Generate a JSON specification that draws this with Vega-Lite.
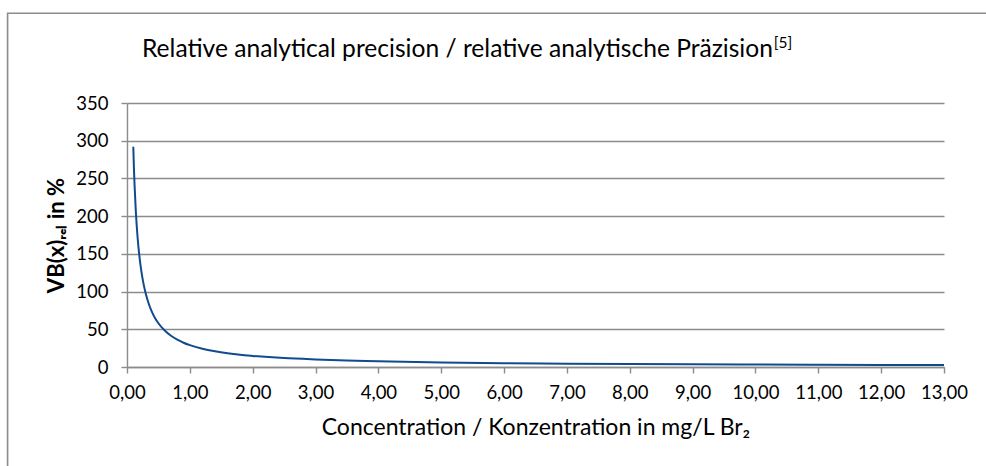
{
  "$schema": "https://vega.github.io/schema/vega-lite/v6.json",
  "autosize": {"type": "none"},
  "width": 817,
  "height": 264,
  "padding": {"left": 127, "top": 103, "right": 42, "bottom": 99},
  "background": "white",
  "title": {
    "text": "Relative analytical precision / relative analytische Präzision",
    "anchor": "start",
    "frame": "group",
    "dx": 15,
    "fontSize": 24.6,
    "font": "Lato, sans-serif",
    "fontWeight": "normal",
    "baseline": "alphabetic",
    "color": "#000000",
    "offset": -69
  },
  "config": {
    "view": {"stroke": null},
    "font": "Lato, sans-serif"
  },
  "layer": [
    {
      "data": {
        "values": [
          {"conc": 0.1, "vb": 292},
          {"conc": 0.11, "vb": 264},
          {"conc": 0.12, "vb": 242},
          {"conc": 0.14, "vb": 207},
          {"conc": 0.16, "vb": 181},
          {"conc": 0.18, "vb": 161},
          {"conc": 0.2, "vb": 145},
          {"conc": 0.23, "vb": 126},
          {"conc": 0.26, "vb": 111.5},
          {"conc": 0.3, "vb": 96.7},
          {"conc": 0.35, "vb": 82.9},
          {"conc": 0.4, "vb": 72.5},
          {"conc": 0.45, "vb": 64.4},
          {"conc": 0.5, "vb": 58},
          {"conc": 0.6, "vb": 48.3},
          {"conc": 0.7, "vb": 41.4},
          {"conc": 0.8, "vb": 36.3},
          {"conc": 0.9, "vb": 32.2},
          {"conc": 1.0, "vb": 29},
          {"conc": 1.2, "vb": 24.2},
          {"conc": 1.4, "vb": 20.8},
          {"conc": 1.6, "vb": 18.2},
          {"conc": 1.8, "vb": 16.2},
          {"conc": 2.0, "vb": 14.7},
          {"conc": 2.5, "vb": 11.8},
          {"conc": 3.0, "vb": 10.0},
          {"conc": 3.5, "vb": 8.6},
          {"conc": 4.0, "vb": 7.6},
          {"conc": 5.0, "vb": 6.1},
          {"conc": 6.0, "vb": 5.1},
          {"conc": 7.0, "vb": 4.4},
          {"conc": 8.0, "vb": 3.9},
          {"conc": 9.0, "vb": 3.5},
          {"conc": 10.0, "vb": 3.2},
          {"conc": 11.0, "vb": 2.9},
          {"conc": 12.0, "vb": 2.7},
          {"conc": 13.0, "vb": 2.5}
        ]
      },
      "mark": {"type": "line", "color": "#114B8E", "strokeWidth": 2, "interpolate": "monotone"},
      "encoding": {
        "x": {
          "field": "conc",
          "type": "quantitative",
          "scale": {"domain": [0, 13], "nice": false, "zero": false},
          "axis": {
            "values": [0, 1, 2, 3, 4, 5, 6, 7, 8, 9, 10, 11, 12, 13],
            "labelExpr": "replace(format(datum.value, '.2f'), '.', ',')",
            "grid": false,
            "domainColor": "#8C8C8C",
            "domainWidth": 1.4,
            "tickColor": "#8C8C8C",
            "tickWidth": 1.4,
            "tickSize": 6,
            "labelFontSize": 18.5,
            "labelColor": "#000000",
            "labelPadding": 10,
            "labelFlush": false,
            "labelOverlap": false,
            "title": "Concentration / Konzentration in mg/L Br₂",
            "titleFontSize": 23,
            "titleFontWeight": "normal",
            "titleColor": "#000000",
            "titlePadding": 15
          }
        },
        "y": {
          "field": "vb",
          "type": "quantitative",
          "scale": {"domain": [0, 350], "nice": false},
          "axis": {
            "values": [0, 50, 100, 150, 200, 250, 300, 350],
            "grid": true,
            "gridColor": "#8C8C8C",
            "gridWidth": 1.4,
            "domainColor": "#8C8C8C",
            "domainWidth": 1.4,
            "tickColor": "#8C8C8C",
            "tickWidth": 1.4,
            "tickSize": 6,
            "labelFontSize": 18.5,
            "labelColor": "#000000",
            "labelPadding": 13,
            "labelFlush": false,
            "labelOverlap": false,
            "title": "VB(x)ᵣₑₗ in %",
            "titleFontSize": 22,
            "titleFontWeight": "bold",
            "titleColor": "#000000",
            "titlePadding": 7
          }
        }
      }
    },
    {
      "data": {"values": [{"frame": "chart area"}]},
      "mark": {"type": "rect", "fill": null, "stroke": "#8C8C8C", "strokeWidth": 1.6},
      "encoding": {
        "x": {
          "datum": -1.9,
          "type": "quantitative",
          "scale": {"domain": [0, 13], "nice": false, "zero": false},
          "axis": {
            "values": [0, 1, 2, 3, 4, 5, 6, 7, 8, 9, 10, 11, 12, 13],
            "labelExpr": "replace(format(datum.value, '.2f'), '.', ',')",
            "grid": false,
            "domainColor": "#8C8C8C",
            "domainWidth": 1.4,
            "tickColor": "#8C8C8C",
            "tickWidth": 1.4,
            "tickSize": 6,
            "labelFontSize": 18.5,
            "labelColor": "#000000",
            "labelPadding": 10,
            "labelFlush": false,
            "labelOverlap": false,
            "title": "Concentration / Konzentration in mg/L Br₂",
            "titleFontSize": 23,
            "titleFontWeight": "normal",
            "titleColor": "#000000",
            "titlePadding": 15
          }
        },
        "x2": {"datum": 14.2},
        "y": {
          "datum": 469,
          "type": "quantitative",
          "scale": {"domain": [0, 350], "nice": false},
          "axis": {
            "values": [0, 50, 100, 150, 200, 250, 300, 350],
            "grid": true,
            "gridColor": "#8C8C8C",
            "gridWidth": 1.4,
            "domainColor": "#8C8C8C",
            "domainWidth": 1.4,
            "tickColor": "#8C8C8C",
            "tickWidth": 1.4,
            "tickSize": 6,
            "labelFontSize": 18.5,
            "labelColor": "#000000",
            "labelPadding": 13,
            "labelFlush": false,
            "labelOverlap": false,
            "title": "VB(x)ᵣₑₗ in %",
            "titleFontSize": 22,
            "titleFontWeight": "bold",
            "titleColor": "#000000",
            "titlePadding": 7
          }
        },
        "y2": {"datum": -200}
      }
    },
    {
      "data": {"values": [{"note": "[5]"}]},
      "mark": {"type": "text", "fontSize": 15.5, "align": "left", "baseline": "middle", "color": "#000000", "font": "Lato, sans-serif"},
      "encoding": {
        "x": {
          "datum": 10.29,
          "type": "quantitative",
          "scale": {"domain": [0, 13], "nice": false, "zero": false},
          "axis": {
            "values": [0, 1, 2, 3, 4, 5, 6, 7, 8, 9, 10, 11, 12, 13],
            "labelExpr": "replace(format(datum.value, '.2f'), '.', ',')",
            "grid": false,
            "domainColor": "#8C8C8C",
            "domainWidth": 1.4,
            "tickColor": "#8C8C8C",
            "tickWidth": 1.4,
            "tickSize": 6,
            "labelFontSize": 18.5,
            "labelColor": "#000000",
            "labelPadding": 10,
            "labelFlush": false,
            "labelOverlap": false,
            "title": "Concentration / Konzentration in mg/L Br₂",
            "titleFontSize": 23,
            "titleFontWeight": "normal",
            "titleColor": "#000000",
            "titlePadding": 15
          }
        },
        "y": {
          "datum": 429,
          "type": "quantitative",
          "scale": {"domain": [0, 350], "nice": false},
          "axis": {
            "values": [0, 50, 100, 150, 200, 250, 300, 350],
            "grid": true,
            "gridColor": "#8C8C8C",
            "gridWidth": 1.4,
            "domainColor": "#8C8C8C",
            "domainWidth": 1.4,
            "tickColor": "#8C8C8C",
            "tickWidth": 1.4,
            "tickSize": 6,
            "labelFontSize": 18.5,
            "labelColor": "#000000",
            "labelPadding": 13,
            "labelFlush": false,
            "labelOverlap": false,
            "title": "VB(x)ᵣₑₗ in %",
            "titleFontSize": 22,
            "titleFontWeight": "bold",
            "titleColor": "#000000",
            "titlePadding": 7
          }
        },
        "text": {"field": "note"}
      }
    }
  ]
}
